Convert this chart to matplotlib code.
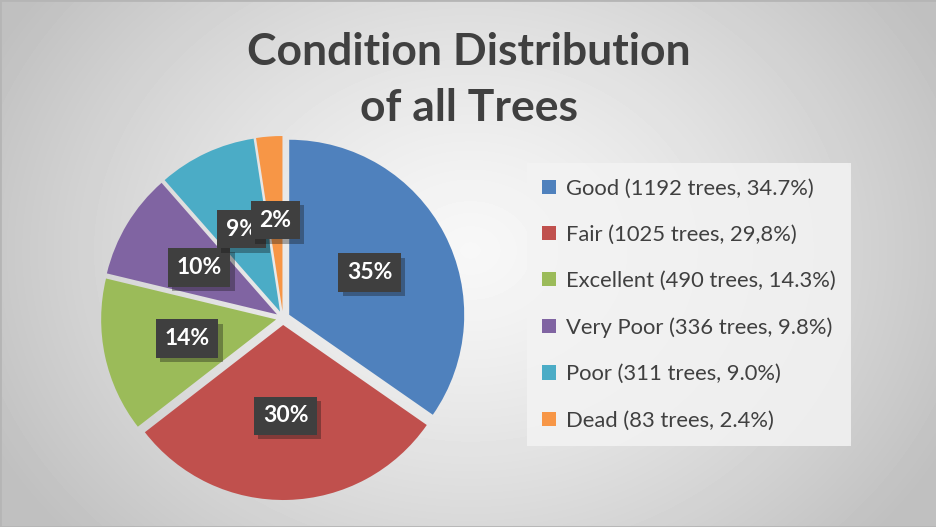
import matplotlib
matplotlib.use("Agg")
import matplotlib.pyplot as plt
import matplotlib.patheffects as pe
from matplotlib.patches import Patch
import numpy as np

plt.rcParams['font.family'] = ['Lato', 'DejaVu Sans']

conditions = ["Good", "Fair", "Excellent", "Very Poor", "Poor", "Dead"]
counts = [1192, 1025, 490, 336, 311, 83]
legend_pct = ["34.7%", "29,8%", "14.3%", "9.8%", "9.0%", "2.4%"]
colors = ["#4f81bd", "#c0504d", "#9bbb59", "#8064a2", "#4bacc6", "#f79646"]

W, H = 937, 527
fig = plt.figure(figsize=(W / 100, H / 100), dpi=100)

# radial gray background
bg = fig.add_axes([0, 0, 1, 1], zorder=-10)
yy, xx = np.mgrid[0:H, 0:W]
r = np.sqrt(((xx - 470) / 520) ** 2 + ((yy - 250) / 420) ** 2)
shade = np.clip(0.97 - 0.21 * r ** 1.3, 0.75, 1)
bg.imshow(shade, cmap="gray", vmin=0, vmax=1, extent=[0, 1, 0, 1], aspect="auto")
bg.plot([0, 1, 1, 0, 0], [0, 0, 1, 1, 0], color="#b5b5b5", lw=2, transform=bg.transAxes)
bg.set_xlim(0, 1)
bg.set_ylim(0, 1)
bg.axis("off")

# pie
ax = fig.add_axes([90.5 / W, 16.5 / H, 385 / W, 385 / H])
total = sum(counts)
wedges, _ = ax.pie(counts, colors=colors, startangle=90, counterclock=False,
                   explode=[0.04] * len(counts), radius=1.0,
                   wedgeprops=dict(linewidth=0))
ax.set_xlim(-1.1, 1.1)
ax.set_ylim(-1.1, 1.1)
ax.set_aspect("equal")
ax.axis("off")

for w, c in zip(wedges, counts):
    ang = np.deg2rad((w.theta1 + w.theta2) / 2)
    d = 0.56
    t = ax.text(d * np.cos(ang), d * np.sin(ang), f"{round(100 * c / total)}%",
                ha="center", va="center", color="white", fontsize=16.5, fontweight="bold",
                bbox=dict(boxstyle="square,pad=0.38", fc="#3f3f3f", ec="none"))
    t.get_bbox_patch().set_path_effects([pe.SimplePatchShadow(offset=(3, -3), alpha=0.35),
                                         pe.Normal()])

# title
fig.text(469 / W, 1 - 52 / H, "Condition Distribution", ha="center", va="center",
         fontsize=32, fontweight="bold", color="#404040")
fig.text(469 / W, 1 - 108 / H, "of all Trees", ha="center", va="center",
         fontsize=32, fontweight="bold", color="#404040")

# legend
handles = [Patch(facecolor=col, edgecolor="none") for col in colors]
labels = [f"{n} ({c} trees, {p})" for n, c, p in zip(conditions, counts, legend_pct)]
leg = fig.legend(handles, labels, loc="upper left", bbox_to_anchor=(527 / W, 1 - 163 / H),
                 fontsize=15.8, frameon=True, fancybox=False, labelspacing=1.2,
                 handlelength=0.62, handleheight=0.62, handletextpad=0.45,
                 borderpad=0.7, borderaxespad=0)
leg.get_frame().set_facecolor("#f3f3f3")
leg.get_frame().set_edgecolor("none")
leg.get_frame().set_alpha(0.85)
for txt in leg.get_texts():
    txt.set_color("#404040")

fig.savefig("out.png", dpi=100)
